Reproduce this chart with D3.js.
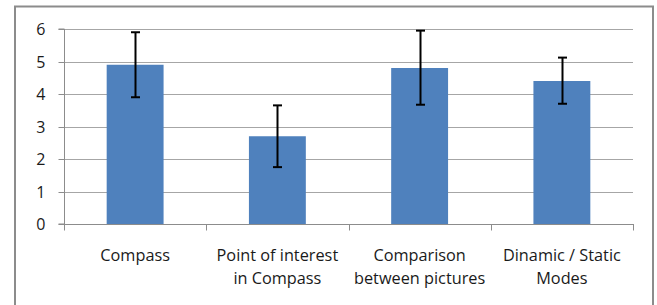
<!DOCTYPE html>
<html><head><meta charset="utf-8">
<script src="https://cdn.jsdelivr.net/npm/d3@7"></script>
<style>html,body{margin:0;padding:0;background:#fff;}svg{display:block;}</style>
</head><body>
<script>
const categories = [["Compass"], ["Point of interest", "in Compass"], ["Comparison", "between pictures"], ["Dinamic / Static", "Modes"]];
const values = [4.9, 2.7, 4.8, 4.4];
const errLow = [3.9, 1.75, 3.67, 3.7];
const errHigh = [5.9, 3.65, 5.95, 5.12];
const yTicks = [0, 1, 2, 3, 4, 5, 6];

const W = 657, H = 305;
const m = {left: 64, right: 633, top: 29, bottom: 224};
const FONT = "'Open Sans', Lato, sans-serif";
const svg = d3.select("body").append("svg").attr("width", W).attr("height", H);
svg.append("rect").attr("width", W).attr("height", H).attr("fill", "#fff");
svg.append("rect").attr("x", 15).attr("y", 6.5).attr("width", 638).attr("height", 330)
  .attr("fill", "none").attr("stroke", "#8c8c8c").attr("stroke-width", 2);

const x = d3.scaleBand().domain(d3.range(values.length)).range([m.left, m.right]).paddingInner(0.6).paddingOuter(0.3);
const xOuter = d3.scaleBand().domain(d3.range(values.length)).range([m.left, m.right]);
const y = d3.scaleLinear().domain([0, 6]).range([m.bottom, m.top]);

// gridlines
svg.append("g").selectAll("line").data(yTicks.filter(d => d > 0)).join("line")
  .attr("x1", m.left).attr("x2", m.right)
  .attr("y1", d => Math.round(y(d)) + 0.5).attr("y2", d => Math.round(y(d)) + 0.5)
  .attr("stroke", "#a6a6a6").attr("stroke-width", 1);

// y axis
const yAxis = d3.axisLeft(y).tickValues(yTicks).tickSize(6).tickPadding(13).tickFormat(d3.format("d"));
const gy = svg.append("g").attr("transform", `translate(${m.left + 0.5},0)`).call(yAxis);
gy.select(".domain").attr("stroke", "#8c8c8c").attr("d", `M-6,${m.bottom}H0V${m.top}H-6`);
gy.selectAll(".tick line").attr("stroke", "#8c8c8c");
gy.selectAll(".tick").attr("transform", d => `translate(0,${Math.round(y(d)) + 0.5})`);
gy.selectAll("text").attr("font-family", FONT).attr("font-size", 16).attr("fill", "#1a1a1a");

// bars
svg.append("g").selectAll("rect").data(values).join("rect")
  .attr("x", (d, i) => x(i)).attr("width", x.bandwidth())
  .attr("y", d => y(d)).attr("height", d => y(0) - y(d))
  .attr("fill", "#4f81bd");

// x axis
const xAxisLine = svg.append("g");
xAxisLine.append("line").attr("x1", m.left).attr("x2", m.right + 0.5)
  .attr("y1", m.bottom + 0.5).attr("y2", m.bottom + 0.5).attr("stroke", "#8c8c8c");
const tickXs = d3.range(values.length + 1).map(i => i < values.length ? xOuter(i) : m.right);
xAxisLine.selectAll("line.t").data(tickXs).join("line").attr("class", "t")
  .attr("x1", d => Math.round(d) + 0.5).attr("x2", d => Math.round(d) + 0.5)
  .attr("y1", m.bottom).attr("y2", m.bottom + 6.5).attr("stroke", "#8c8c8c");

// error bars
const eg = svg.append("g").attr("stroke", "#000").attr("stroke-width", 2);
values.forEach((v, i) => {
  const cx = Math.round(x(i) + x.bandwidth() / 2) + 0.5;
  eg.append("line").attr("x1", cx).attr("x2", cx).attr("y1", y(errHigh[i])).attr("y2", y(errLow[i]));
  [errHigh[i], errLow[i]].forEach(e => {
    eg.append("line").attr("x1", cx - 4.5).attr("x2", cx + 4.5).attr("y1", y(e)).attr("y2", y(e));
  });
});

// category labels
const lg = svg.append("g").attr("font-family", FONT).attr("font-size", 16.3)
  .attr("fill", "#1a1a1a").attr("text-anchor", "middle");
categories.forEach((lines, i) => {
  const cx = xOuter(i) + xOuter.bandwidth() / 2;
  const t = lg.append("text").attr("x", cx).attr("y", 261);
  lines.forEach((l, k) => t.append("tspan").attr("x", cx).attr("dy", k === 0 ? 0 : 23).text(l));
});
</script>
</body></html>
